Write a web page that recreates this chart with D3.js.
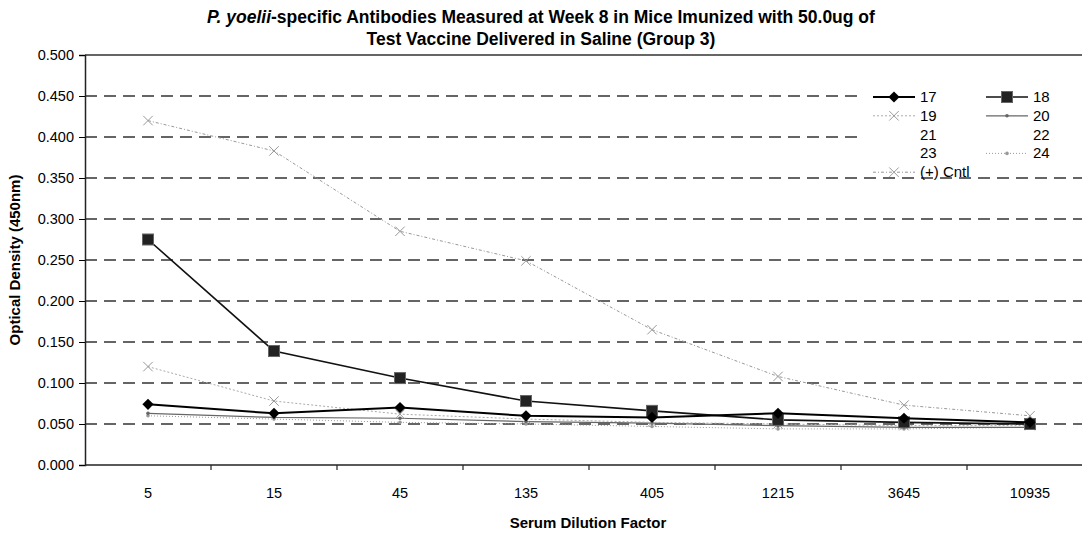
<!DOCTYPE html>
<html>
<head>
    <meta http-equiv="Content-Type" content="text/html; charset=utf-8" />
    <title>P. yoelii Group 3</title>
    <style type="text/css">
        * { margin: 0; padding: 0 }
        html, body { width: 100%; height: 100%; background: #fff; }
        svg text { font-family: "Liberation Sans", Arial, sans-serif; fill: #000; }
    </style>
</head>
<body>
    <svg id="chart" width="1082" height="533"></svg>
    <script src="https://cdn.jsdelivr.net/npm/d3@7"></script>
    <script>
        // 数据
        const dilutions = ["5", "15", "45", "135", "405", "1215", "3645", "10935"];
        const yTicks = [0, 0.05, 0.1, 0.15, 0.2, 0.25, 0.3, 0.35, 0.4, 0.45, 0.5];
        const s17 = [0.074, 0.063, 0.070, 0.060, 0.058, 0.063, 0.057, 0.052];
        const s18 = [0.275, 0.139, 0.106, 0.078, 0.066, 0.055, 0.052, 0.050];
        const s19 = [0.120, 0.078, 0.062, 0.056, 0.052, 0.050, 0.048, 0.048];
        const s20 = [0.063, 0.058, 0.057, 0.053, 0.051, 0.048, 0.046, 0.046];
        const s24 = [0.060, 0.056, 0.052, 0.050, 0.047, 0.044, 0.044, 0.046];
        const sCntl = [0.420, 0.383, 0.285, 0.249, 0.165, 0.108, 0.073, 0.060];
        const legendNames = ["17", "18", "19", "20", "21", "22", "23", "24", "(+) Cntl"];

        const series = [
            { name: "17", values: s17, color: "#000", width: 2, dash: null, marker: "diamond" },
            { name: "18", values: s18, color: "#111", width: 1.6, dash: null, marker: "square" },
            { name: "19", values: s19, color: "#aaa", width: 1, dash: "2,2", marker: "x" },
            { name: "20", values: s20, color: "#666", width: 1.2, dash: null, marker: "dot" },
            { name: "21", values: null },
            { name: "22", values: null },
            { name: "23", values: null },
            { name: "24", values: s24, color: "#999", width: 1, dash: "1,2", marker: "dot" },
            { name: "(+) Cntl", values: sCntl, color: "#999", width: 1, dash: "3,2,1,2", marker: "x" }
        ];

        const svg = d3.select("#chart");
        const x = d3.scalePoint().domain(dilutions).range([85, 1093]).padding(0.5);
        const y = d3.scaleLinear().domain([0, 0.5]).range([465, 55]);
        const step = x.step();

        // 网格线
        svg.append("g").selectAll("line")
            .data(yTicks.filter(d => d > 0 && d < 0.5))
            .join("line")
            .attr("x1", 85).attr("x2", 1082)
            .attr("y1", d => y(d)).attr("y2", d => y(d))
            .attr("stroke", "#333").attr("stroke-width", 1.4)
            .attr("stroke-dasharray", "12,7");
        svg.append("line")
            .attr("x1", 85).attr("x2", 1082).attr("y1", y(0.5)).attr("y2", y(0.5))
            .attr("stroke", "#333").attr("stroke-width", 1.4);

        // y 轴
        const yAxis = d3.axisLeft(y).tickValues(yTicks).tickFormat(d3.format(".3f")).tickSize(6).tickPadding(5);
        const gy = svg.append("g").attr("transform", "translate(85,0)").call(yAxis);
        gy.select(".domain").attr("stroke", "#222").attr("stroke-width", 1.5);
        gy.selectAll("text").style("font-size", "14.5px").style("font-family", "Liberation Sans, Arial, sans-serif");

        // x 轴
        svg.append("line").attr("x1", 85).attr("x2", 1082).attr("y1", y(0)).attr("y2", y(0))
            .attr("stroke", "#222").attr("stroke-width", 1.5);
        svg.append("g").selectAll("line")
            .data(dilutions.slice(1))
            .join("line")
            .attr("x1", d => x(d) - step / 2).attr("x2", d => x(d) - step / 2)
            .attr("y1", y(0)).attr("y2", y(0) + 5)
            .attr("stroke", "#222").attr("stroke-width", 1.2);
        svg.append("g").selectAll("text")
            .data(dilutions)
            .join("text")
            .attr("x", d => x(d)).attr("y", 498)
            .attr("text-anchor", "middle")
            .style("font-size", "14.5px")
            .text(d => d);

        // 标题
        const title = svg.append("text").attr("x", 541).attr("y", 23).attr("text-anchor", "middle")
            .style("font-size", "17.5px").style("font-weight", "bold");
        title.append("tspan").style("font-style", "italic").text("P. yoelii");
        title.append("tspan").text("-specific Antibodies Measured at Week 8 in Mice Imunized with 50.0ug of");
        svg.append("text").attr("x", 541).attr("y", 45).attr("text-anchor", "middle")
            .style("font-size", "17.5px").style("font-weight", "bold")
            .text("Test Vaccine Delivered in Saline (Group 3)");

        svg.append("text").attr("x", 588).attr("y", 528).attr("text-anchor", "middle")
            .style("font-size", "15px").style("font-weight", "bold").text("Serum Dilution Factor");
        svg.append("text").attr("transform", "translate(20,260) rotate(-90)").attr("text-anchor", "middle")
            .style("font-size", "15px").style("font-weight", "bold").text("Optical Density (450nm)");

        // 标记
        const drawMarker = (g, s, cx, cy) => {
            if (s.marker === "diamond") {
                g.append("path").attr("d", d3.symbol(d3.symbolDiamond2, 80)())
                    .attr("transform", `translate(${cx},${cy})`).attr("fill", "#000");
            } else if (s.marker === "square") {
                g.append("rect").attr("x", cx - 5.5).attr("y", cy - 5.5).attr("width", 11).attr("height", 11)
                    .attr("fill", "#222").attr("stroke", "#666").attr("stroke-width", 1);
            } else if (s.marker === "x") {
                g.append("path").attr("d", d3.symbol(d3.symbolX, 60)())
                    .attr("transform", `translate(${cx},${cy})`)
                    .attr("fill", "none").attr("stroke", "#999").attr("stroke-width", 1);
            } else if (s.marker === "dot") {
                g.append("circle").attr("cx", cx).attr("cy", cy).attr("r", 1.8).attr("fill", s.color);
            }
        };

        const line = d3.line().x((d, i) => x(dilutions[i])).y(d => y(d));
        const plotted = series.filter(s => s.values);
        // 先画浅色的线，黑色线在上
        const order = ["24", "20", "19", "(+) Cntl", "18", "17"];
        order.forEach(name => {
            const s = plotted.find(p => p.name === name);
            const g = svg.append("g");
            g.append("path").attr("d", line(s.values))
                .attr("fill", "none").attr("stroke", s.color).attr("stroke-width", s.width)
                .attr("stroke-dasharray", s.dash);
            s.values.forEach((v, i) => drawMarker(g, s, x(dilutions[i]), y(v)));
        });

        // 图例（白底遮住网格线）
        const legend = svg.append("g");
        legend.append("rect").attr("x", 862).attr("y", 82).attr("width", 220).attr("height", 94).attr("fill", "#fff");
        legendNames.forEach((name, i) => {
            const s = series.find(p => p.name === name);
            const col = i % 2, row = Math.floor(i / 2);
            const lx = 873 + col * 113, ly = 97 + row * 18.8;
            if (s.values) {
                legend.append("line").attr("x1", lx).attr("x2", lx + 42).attr("y1", ly).attr("y2", ly)
                    .attr("stroke", s.color).attr("stroke-width", s.width).attr("stroke-dasharray", s.dash);
                drawMarker(legend, s, lx + 21, ly);
            }
            legend.append("text").attr("x", lx + 47).attr("y", ly + 5)
                .style("font-size", "15px").text(name);
        });
    </script>
</body>
</html>
